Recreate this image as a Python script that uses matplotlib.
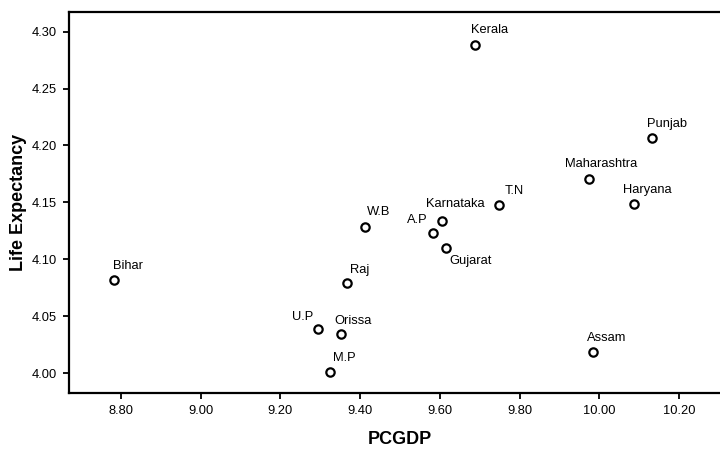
import matplotlib
matplotlib.use("Agg")
import matplotlib.pyplot as plt

states = ["Bihar", "U.P", "Orissa", "M.P", "Raj", "W.B", "A.P", "Karnataka",
          "Gujarat", "T.N", "Kerala", "Maharashtra", "Haryana", "Punjab", "Assam"]
pcgdp = [8.783, 9.295, 9.351, 9.324, 9.366, 9.412, 9.582, 9.605,
         9.614, 9.749, 9.689, 9.974, 10.087, 10.131, 9.983]
life_exp = [4.082, 4.039, 4.034, 4.001, 4.079, 4.128, 4.123, 4.134,
            4.110, 4.1475, 4.2886, 4.1706, 4.149, 4.207, 4.019]

xticks = [8.80, 9.00, 9.20, 9.40, 9.60, 9.80, 10.00, 10.20]
yticks = [4.00, 4.05, 4.10, 4.15, 4.20, 4.25, 4.30]

# label offsets in pixels (dx, dy, horizontal alignment)
offsets = {
    "Bihar": (-1, 14, "left"), "U.P": (-5, 12, "right"), "Orissa": (-6, 13.5, "left"),
    "M.P": (3, 14, "left"), "Raj": (3, 13.5, "left"), "W.B": (2, 15, "left"),
    "A.P": (-5, 13, "right"), "Karnataka": (-16, 17, "left"), "Gujarat": (4, -13, "left"),
    "T.N": (5, 14, "left"), "Kerala": (-4, 14.7, "left"), "Maharashtra": (-23.7, 15, "left"),
    "Haryana": (-11, 14, "left"), "Punjab": (-5, 14, "left"), "Assam": (-5.6, 14, "left"),
}

plt.rcParams['font.family'] = ['Liberation Sans', 'DejaVu Sans']
W, H = 720, 449
fig = plt.figure(figsize=(7.2, 4.49), dpi=100)
ax = fig.add_axes([69 / W, (H - 392.5) / H, (731 - 69) / W, (392.5 - 12.3) / H])

ax.scatter(pcgdp, life_exp, s=36, facecolors="white", edgecolors="black",
           linewidths=1.6, zorder=3)

px2pt = 0.72
for name, x, y in zip(states, pcgdp, life_exp):
    dx, dy, ha = offsets[name]
    ax.annotate(name, (x, y), xytext=(dx * px2pt, dy * px2pt), textcoords="offset points",
                ha=ha, va="center", fontsize=9.3)

ax.set_xlim(8.6695, 10.330)
ax.set_ylim(3.983, 4.317)
ax.set_xticks(xticks)
ax.set_xticklabels([f"{v:.2f}" for v in xticks])
ax.set_yticks(yticks)
ax.set_yticklabels([f"{v:.2f}" for v in yticks])
ax.tick_params(direction="out", length=4, width=1.3, labelsize=9.3, pad=5)

for s in ax.spines.values():
    s.set_linewidth(1.6)
ax.spines["right"].set_visible(False)

ax.set_xlabel("PCGDP", fontsize=13, fontweight="bold", labelpad=10)
ax.set_ylabel("Life Expectancy", fontsize=13, fontweight="bold", labelpad=3)

fig.savefig("out.png", dpi=100)
